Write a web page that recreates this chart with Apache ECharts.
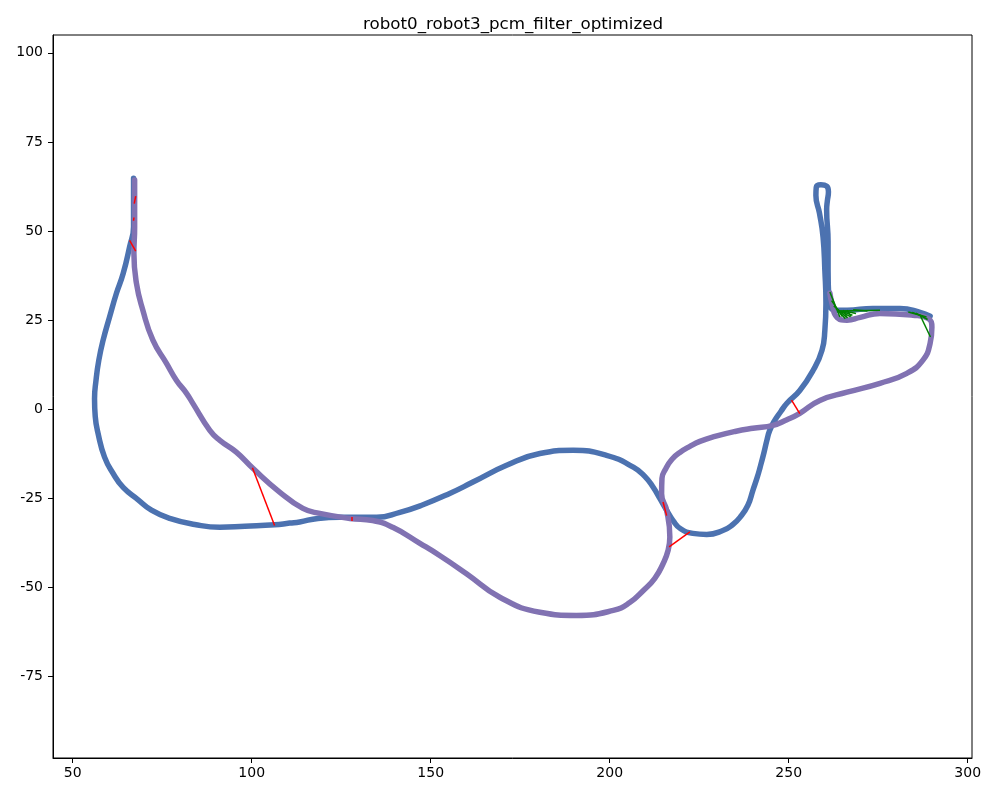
<!DOCTYPE html>
<html>
<head>
<meta charset="utf-8">
<script src="https://cdn.jsdelivr.net/npm/echarts@6.0.0/dist/echarts.min.js"></script>
<style>
  html, body { margin: 0; padding: 0; background: #fff; }
  #chart { width: 997px; height: 797px; }
</style>
</head>
<body>
<div id="chart"></div>
<script>
// axis ranges and ticks
const xRange = [44.5, 301.2];
const yRange = [-97.8, 105];
const xTicks = [50, 100, 150, 200, 250, 300];
const yTicks = [-75, -50, -25, 0, 25, 50, 75, 100];

// robot0 trajectory (blue)
const robot0Path = [
  [67.0, 64.8], [67.0, 58], [67.0, 51.2], [65.9, 45.6], [64.1, 38.1], [62.2, 32.5],
  [60.3, 25.9], [58.5, 19.4], [57.3, 13.8], [56.5, 8], [56.1, 3], [56.3, -2], [57.1, -6.8],
  [58.9, -13.4], [61.3, -18], [64.1, -21.9], [68.2, -25.3], [72.0, -28.3], [77.1, -30.6],
  [84.1, -32.3], [91.1, -33.1], [98.1, -32.8], [106.4, -32.4], [110.6, -31.9],
  [113.4, -31.6], [118.5, -30.6], [124.6, -30.3], [134.9, -30.3], [141.4, -28.9],
  [147.5, -26.9], [155.3, -23.6], [161.8, -20.4], [171.2, -15.7], [180.5, -12.4],
  [189.8, -11.5], [199.1, -12.9], [206.6, -16.2], [209.8, -18.8], [212.1, -21.8],
  [214.0, -25], [215.9, -28.3], [217.7, -31.2], [219.8, -33.5], [223.2, -34.8],
  [227.1, -35.1], [231.6, -34], [234.4, -32.3], [236.4, -30.3],
  [238.6, -26.9], [240, -22.7], [241.2, -19.1], [242, -16.3], [243.1, -12.1],
  [243.9, -8.7], [244.7, -5.9], [246.1, -3.1], [247.8, -0.6], [249.5, 1.7], [253.1, 5.3],
  [256.8, 10.9], [259.3, 16.6], [260.1, 22.2], [260.4, 29.7], [260.1, 39], [259.6, 48.3],
  [258.6, 55], [257.6, 60], [257.7, 62.3], [259, 63], [260.6, 62.6], [261.1, 61],
  [260.8, 58.5], [260.6, 56], [261, 47], [261, 39], [261.2, 31.4], [262.9, 27.8],
  [266.3, 27.8], [273.5, 28.3], [281.1, 28.3], [286.7, 27.2], [289.5, 26.1]
];

// robot3 trajectory (purple)
const robot3Path = [
  [67.3, 64.3], [67.3, 58], [67.3, 51.1], [67.1, 43.8], [67.8, 35.4], [69.6, 27.8],
  [72.4, 19.4], [76.2, 12.9], [79, 8.1], [81.8, 4.5], [83.6, 1.6], [88.3, -5.9],
  [91.1, -8.7], [95.7, -12], [100.4, -16.6], [107.8, -23.2], [114.3, -27.8], [119, -29.2],
  [127.4, -30.6], [133.8, -31.2], [139.4, -33.1], [147, -37.6], [152.5, -41],
  [160, -46.1], [169.3, -52.7], [180.5, -56.9], [190.7, -57.8], [201, -56.4],
  [205.6, -54.2], [209.4, -50.8], [212.6, -47.4], [214.9, -43.3], [216.3, -39.6],
  [216.8, -35.8], [215.9, -28.3], [214.5, -23.7], [214.6, -19.4], [215.7, -16.6],
  [217.4, -14], [219.6, -12.1], [222.4, -10.4], [225.2, -9], [229.4, -7.6], [235, -6.2],
  [240, -5.3], [245.6, -4.5], [249.5, -2.9], [253.1, -1.1], [258.7, 2.5], [266.3, 4.8],
  [275.5, 7.3], [283, 10.1], [287.5, 13.8], [289.5, 18.5], [290, 23], [288.9, 25.5],
  [284.7, 26.4], [275.5, 26.9], [270, 25.8], [266.3, 25], [263.5, 25.8], [262.1, 29.7],
  [261.5, 32.6]
];

// rejected loop closures (red)
const redLinks = [
  [[100.2, -16.4], [106.4, -32.6]],
  [[128.0, -30.2], [128.0, -31.3]],
  [[67.6, 59.8], [67.2, 57.7]],
  [[67.1, 53.8], [67.0, 52.9]],
  [[65.9, 47.4], [67.6, 44.4]],
  [[214.9, -26.0], [215.9, -29.8]],
  [[222.4, -34.4], [216.6, -38.6]],
  [[250.8, 2.6], [253.1, -1.2]]
];

// accepted loop closures (green)
const greenLinks = [
  [[261.5, 32.9], [264.3, 25.9]],
  [[262.0, 30.5], [265.0, 26.0]],
  [[262.6, 29.0], [266.2, 25.8]],
  [[263.2, 28.2], [267.2, 26.0]],
  [[263.8, 27.8], [265.8, 25.4]],
  [[264.6, 27.6], [267.8, 26.4]],
  [[265.2, 27.8], [266.4, 25.6]],
  [[265.5, 27.6], [268.8, 26.9]],
  [[266.3, 27.8], [267.4, 26.0]],
  [[264.3, 27.6], [275.5, 27.8]],
  [[268.0, 27.9], [272.0, 27.6]],
  [[283.4, 27.3], [288.5, 25.9]],
  [[284.5, 27.2], [287.5, 26.1]],
  [[285.5, 27.0], [288.8, 25.2]],
  [[286.7, 26.4], [289.6, 20.3]]
];

const FONT = 'DejaVu Sans';

function segs(list) {
  return list.map((c) => ({ coords: c }));
}

const chart = echarts.init(document.getElementById('chart'));
chart.setOption({
  animation: false,
  backgroundColor: '#fff',
  title: {
    text: 'robot0_robot3_pcm_filter_optimized',
    left: 508,
    top: 11,
    textAlign: 'center',
    textStyle: { fontFamily: FONT, fontSize: 16.7, fontWeight: 'normal', color: '#000' },
  },
  grid: {
    left: 53,
    right: 25,
    top: 35,
    bottom: 39,
    containLabel: false,
    outerBoundsMode: 'none',
    show: true,
    borderColor: '#000',
    borderWidth: 1,
  },
  xAxis: {
    type: 'value',
    min: xRange[0],
    max: xRange[1],
    axisLine: { show: true, onZero: false, lineStyle: { color: '#000', width: 1 } },
    axisTick: { show: true, length: 5, customValues: xTicks, lineStyle: { color: '#000' } },
    axisLabel: { customValues: xTicks, color: '#000', fontFamily: FONT, fontSize: 14, margin: 8 },
    splitLine: { show: false },
  },
  yAxis: {
    type: 'value',
    min: yRange[0],
    max: yRange[1],
    axisLine: { show: true, onZero: false, lineStyle: { color: '#000', width: 1 } },
    axisTick: { show: true, length: 5, customValues: yTicks, lineStyle: { color: '#000' } },
    axisLabel: { customValues: yTicks, color: '#000', fontFamily: FONT, fontSize: 14, margin: 10 },
    splitLine: { show: false },
  },
  series: [
    {
      name: 'robot0',
      type: 'line',
      data: robot0Path,
      showSymbol: false,
      smooth: 0.5,
      lineStyle: { color: '#4C72B0', width: 5.5, cap: 'round', join: 'round' },
      z: 2,
    },
    {
      name: 'robot3',
      type: 'line',
      data: robot3Path,
      showSymbol: false,
      smooth: 0.5,
      lineStyle: { color: '#8172B2', width: 5.5, cap: 'round', join: 'round' },
      z: 3,
    },
    {
      name: 'rejected',
      type: 'lines',
      coordinateSystem: 'cartesian2d',
      data: segs(redLinks),
      lineStyle: { color: '#ff0000', width: 1.5, opacity: 1 },
      z: 4,
    },
    {
      name: 'accepted',
      type: 'lines',
      coordinateSystem: 'cartesian2d',
      data: segs(greenLinks),
      lineStyle: { color: '#008000', width: 1.5, opacity: 1 },
      z: 5,
    },
  ],
});
</script>
</body>
</html>
